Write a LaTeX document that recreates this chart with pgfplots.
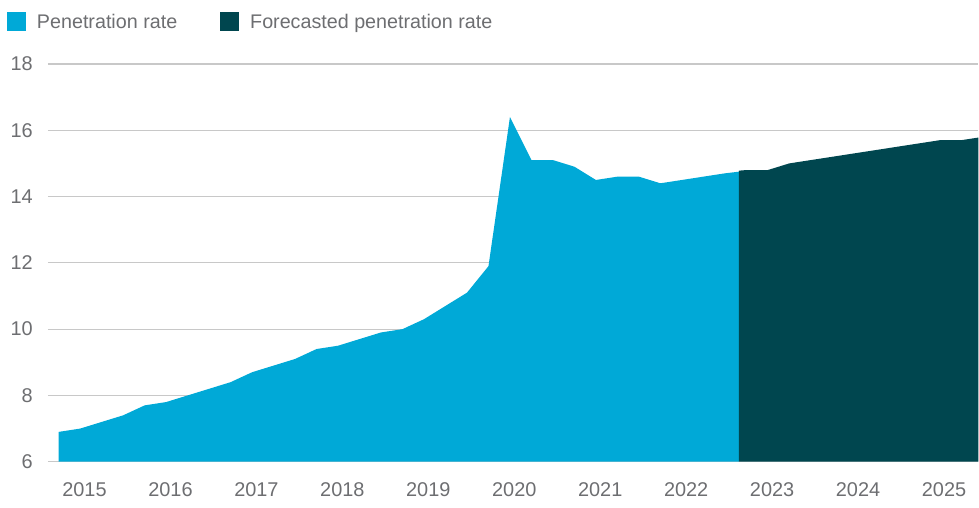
\documentclass[border=0pt]{standalone}
\usepackage{fontspec}
\setmainfont{Liberation Sans}
\usepackage{pgfplots}
\pgfplotsset{compat=1.18}
\definecolor{cblue}{HTML}{00A9D7}
\definecolor{cdark}{HTML}{00464F}
\definecolor{cgrid}{HTML}{C8C8C8}
\definecolor{ctext}{HTML}{6D6E71}
\begin{document}
\begin{tikzpicture}
\begin{axis}[
  scale only axis, width=931bp, height=398bp,
  xmin=-0.5, xmax=42.8, ymin=6, ymax=18,
  axis line style={draw=none},
  major tick length=0pt,
  ytick={6,8,10,12,14,16,18},
  ymajorgrids, grid style={cgrid, line width=1.2bp},
  xtick={1.2,5.2,9.2,13.2,17.2,21.2,25.2,29.2,33.2,37.2,41.2},
  xticklabels={2015,2016,2017,2018,2019,2020,2021,2022,2023,2024,2025},
  tick label style={font=\fontsize{20}{24}\selectfont, text=ctext},
  /pgf/number format/assume math mode=true,
  yticklabel style={anchor=east, inner sep=0pt, xshift=-15bp},
  xticklabel style={anchor=north, inner sep=0pt, yshift=-21bp},
  legend columns=2,
  legend image code/.code={\fill[#1] (0bp,-9.5bp) rectangle (19bp,9.5bp);},
  legend style={at={(axis description cs:0,1)}, anchor=west, xshift=-41bp, yshift=42bp,
    draw=none, fill=none, inner sep=0pt, outer sep=0pt,
    font=\fontsize{19.8}{22}\selectfont, text=ctext,
    nodes={inner sep=0pt},
    /tikz/every odd column/.append style={column sep=11bp},
    /tikz/every even column/.append style={column sep=43bp}},
]
\addplot[draw=none, fill=cblue] coordinates {
 (0,6.9) (1,7.0) (2,7.2) (3,7.4) (4,7.7) (5,7.8) (6,8.0) (7,8.2) (8,8.4)
 (9,8.7) (10,8.9) (11,9.1) (12,9.4) (13,9.5) (14,9.7) (15,9.9) (16,10.0)
 (17,10.3) (18,10.7) (19,11.1) (20,11.9) (21,16.4) (22,15.1) (23,15.1)
 (24,14.9) (25,14.5) (26,14.6) (27,14.6) (28,14.4) (29,14.5) (30,14.6)
 (31,14.7) (31.65,14.75)
} \closedcycle;
\addlegendentry{Penetration rate}
\addplot[draw=none, fill=cdark] coordinates {
 (31.65,14.78) (32,14.8) (33,14.8) (34,15.0) (35,15.1) (36,15.2) (37,15.3)
 (38,15.4) (39,15.5) (40,15.6) (41,15.7) (42,15.7) (43,15.8)
} \closedcycle;
\addlegendentry{Forecasted penetration rate}
\end{axis}
\path (current axis.south west) ++(-48bp,-46bp) coordinate (bbA);
\path (current axis.north east) ++(0bp,64bp) coordinate (bbB);
\path (bbA) rectangle (bbB);
\end{tikzpicture}
\end{document}
